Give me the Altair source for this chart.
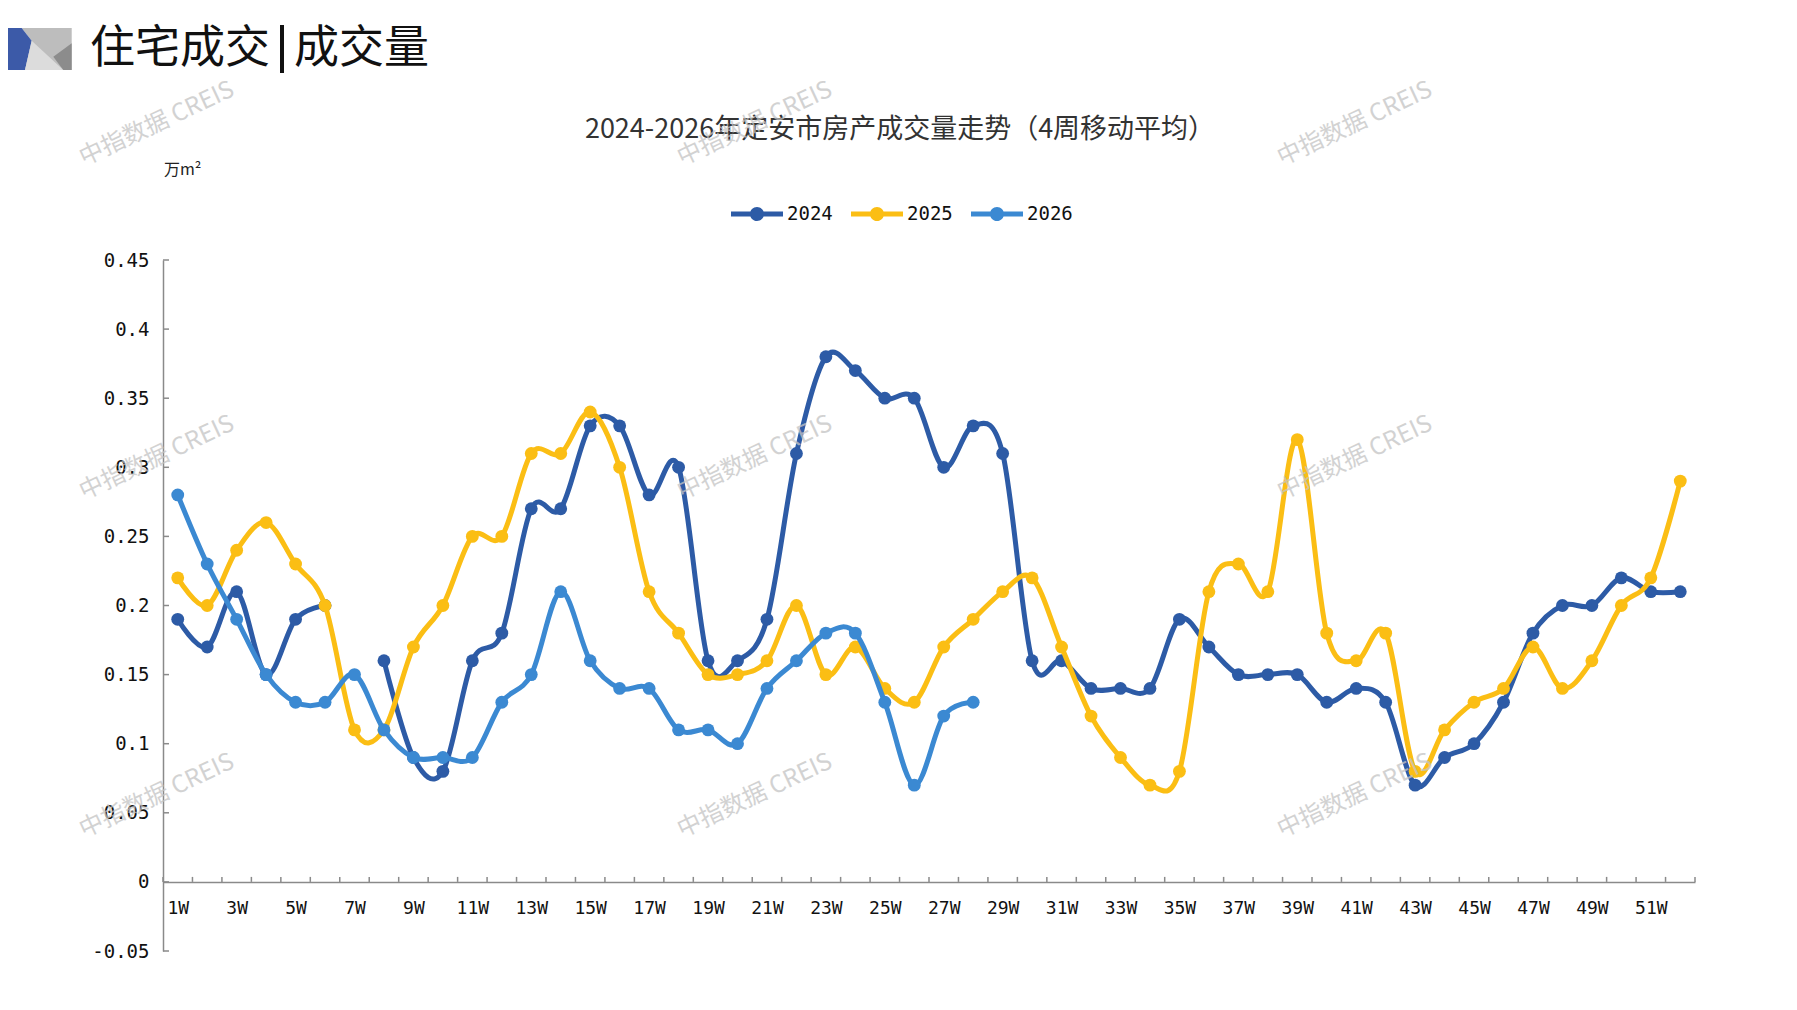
import altair as alt
import pandas as pd

# weekly 4-week moving average of housing transaction area (10k m2)
weeks = ["1W", "2W", "3W", "4W", "5W", "6W", "7W", "8W", "9W", "10W",
         "11W", "12W", "13W", "14W", "15W", "16W", "17W", "18W", "19W", "20W",
         "21W", "22W", "23W", "24W", "25W", "26W", "27W", "28W", "29W", "30W",
         "31W", "32W", "33W", "34W", "35W", "36W", "37W", "38W", "39W", "40W",
         "41W", "42W", "43W", "44W", "45W", "46W", "47W", "48W", "49W", "50W",
         "51W", "52W"]

vol_2024 = [0.19, 0.17, 0.21, 0.15, 0.19, 0.20, None, 0.16, 0.09, 0.08,
            0.16, 0.18, 0.27, 0.27, 0.33, 0.33, 0.28, 0.30, 0.16, 0.16,
            0.19, 0.31, 0.38, 0.37, 0.35, 0.35, 0.30, 0.33, 0.31, 0.16,
            0.16, 0.14, 0.14, 0.14, 0.19, 0.17, 0.15, 0.15, 0.15, 0.13,
            0.14, 0.13, 0.07, 0.09, 0.10, 0.13, 0.18, 0.20, 0.20, 0.22,
            0.21, 0.21]
vol_2025 = [0.22, 0.20, 0.24, 0.26, 0.23, 0.20, 0.11, 0.11, 0.17, 0.20,
            0.25, 0.25, 0.31, 0.31, 0.34, 0.30, 0.21, 0.18, 0.15, 0.15,
            0.16, 0.20, 0.15, 0.17, 0.14, 0.13, 0.17, 0.19, 0.21, 0.22,
            0.17, 0.12, 0.09, 0.07, 0.08, 0.21, 0.23, 0.21, 0.32, 0.18,
            0.16, 0.18, 0.08, 0.11, 0.13, 0.14, 0.17, 0.14, 0.16, 0.20,
            0.22, 0.29]
vol_2026 = [0.28, 0.23, 0.19, 0.15, 0.13, 0.13, 0.15, 0.11, 0.09, 0.09,
            0.09, 0.13, 0.15, 0.21, 0.16, 0.14, 0.14, 0.11, 0.11, 0.10,
            0.14, 0.16, 0.18, 0.18, 0.13, 0.07, 0.12, 0.13]

series_names = ["2024", "2025", "2026"]
series_colors = ["#2D5BA6", "#FBBE14", "#3B89D2"]
y_ticks = [-0.05, 0, 0.05, 0.1, 0.15, 0.2, 0.25, 0.3, 0.35, 0.4, 0.45]
odd_weeks = weeks[::2]

header_left = "住宅成交"
header_right = "成交量"
chart_title = "2024-2026年定安市房产成交量走势（4周移动平均）"
unit_text = "万m²"
watermark = "中指数据 CREIS"

W, H = 1532, 691
BAND = W / len(weeks)
AXIS_GREY = "#8A8A8A"
CJK = "Noto Sans CJK SC"
MONO = "DejaVu Sans Mono"

rows = []
for name, vals in zip(series_names, [vol_2024, vol_2025, vol_2026]):
    for wk, v in zip(weeks, vals):
        rows.append({"week": wk, "series": name, "value": v})
df = pd.DataFrame(rows)

x_enc = alt.X("week:O", sort=weeks, title=None,
              scale=alt.Scale(type="point", padding=0.5),
              axis=alt.Axis(values=odd_weeks, ticks=False, grid=False, offset=-H * 0.1,
                            domainColor=AXIS_GREY, domainWidth=1.5, labelAngle=0,
                            labelFont=MONO, labelFontSize=18, labelColor="#111",
                            labelPadding=18, labelOverlap=False))
y_axis = alt.Axis(values=y_ticks, ticks=False, grid=False, domainColor=AXIS_GREY,
                  domainWidth=1.5, labelFont=MONO, labelFontSize=19, labelColor="#111",
                  labelPadding=14,
                  labelExpr="replace(format(datum.value, '~g'), '\u2212', '-')")
y_scale = alt.Scale(domain=[-0.05, 0.45], nice=False, zero=False)
color_scale = alt.Scale(domain=series_names, range=series_colors)

legend_symbol = ("M-1,-0.1H-0.24V0.1H-1Z M0.24,-0.1H1V0.1H0.24Z "
                 "M0.27,0A0.27,0.27 0 1,1 -0.27,0A0.27,0.27 0 1,1 0.27,0Z")
legend = alt.Legend(orient="none", legendX=568, legendY=-72, direction="horizontal",
                    title=None, symbolType=legend_symbol, symbolSize=2704,
                    symbolStrokeWidth=0, symbolOpacity=1, labelFont=MONO,
                    labelFontSize=19, labelColor="#111", labelOffset=4, columnPadding=18)

layers = []

# inner tick marks of the axes
tick_df = pd.DataFrame({"week": weeks})
layers.append(
    alt.Chart(tick_df).mark_rule(color=AXIS_GREY, strokeWidth=1.5, xOffset=-BAND / 2,
                                 x2Offset=-BAND / 2, y2Offset=-5)
    .encode(x=x_enc, y=alt.Y(datum=0, scale=y_scale, axis=y_axis), y2=alt.Y2(datum=0))
)
layers.append(
    alt.Chart(tick_df.tail(1)).mark_rule(color=AXIS_GREY, strokeWidth=1.5, xOffset=BAND / 2,
                                         x2Offset=BAND / 2, y2Offset=-5)
    .encode(x=x_enc, y=alt.Y(datum=0, scale=y_scale, axis=y_axis), y2=alt.Y2(datum=0))
)
layers.append(
    alt.Chart(pd.DataFrame({"tick": y_ticks})).mark_rule(color=AXIS_GREY, strokeWidth=1.5)
    .encode(y=alt.Y("tick:Q", scale=y_scale, axis=y_axis, title=None),
            x=alt.value(0), x2=alt.value(6))
)

# one line + markers per year, later years drawn on top
for name, col in zip(series_names, series_colors):
    sub = df[df["series"] == name]
    base = alt.Chart(sub).encode(
        x=x_enc,
        y=alt.Y("value:Q", scale=y_scale, axis=y_axis, title=None),
    )
    layers.append(
        base.mark_line(interpolate="cardinal", strokeWidth=5, strokeCap="round",
                       strokeJoin="round", color=col)
    )
    layers.append(
        base.mark_point(filled=True, size=165, opacity=1, strokeWidth=0)
        .encode(color=alt.Color("series:N", scale=color_scale, legend=legend))
    )


def text_layer(txt, x, y, **style):
    return alt.Chart(pd.DataFrame({"t": [txt]})).mark_text(**style).encode(
        x=alt.value(x), y=alt.value(y), text="t:N")


def shape_layer(path, color, x, y):
    # size 4 makes the custom path render at 1 unit = 1 px
    return alt.Chart(pd.DataFrame({"k": [0]})).mark_point(
        shape=path, size=4, filled=True, opacity=1, strokeWidth=0, color=color
    ).encode(x=alt.value(x), y=alt.value(y))


# page header decoration and heading
hx, hy = -163, -232
layers += [
    shape_layer("M21.7,0H71.7V42H25L31.7,12.7Z", "#BDBDBD", hx, hy),
    shape_layer("M0,0H21.7L31.7,12.7L25,42H0Z", "#3C5AA8", hx, hy),
    shape_layer("M31.7,12.7L25,42H63.3Z", "#DCDCDC", hx, hy),
    shape_layer("M71.7,15.3L53.3,28.7L63.3,42H71.7Z", "#8C8C8C", hx, hy),
    shape_layer("M0,0H4V48H0Z", "#111111", 117, -235),
    text_layer(header_left, -73, -211, font=CJK, fontSize=45, align="left",
               baseline="middle", color="#111"),
    text_layer(header_right, 131, -211, font=CJK, fontSize=45, align="left",
               baseline="middle", color="#111"),
    text_layer(chart_title, 737, -130, font=CJK, fontSize=27, align="center",
               baseline="middle", color="#333"),
    text_layer(unit_text, 1, -90, font=CJK, fontSize=16, align="left",
               baseline="middle", color="#222"),
]

# watermarks
for wx in [-6, 592, 1192]:
    for wy in [-136, 198, 536]:
        layers.append(text_layer(watermark, wx, wy, font=CJK, fontSize=24, angle=335,
                                 align="center", baseline="middle", color="#C4C4C4",
                                 opacity=0.75))

chart = (
    alt.layer(*layers)
    .properties(width=W, height=H, background="white",
                autosize=alt.AutoSizeParams(type="none"),
                padding={"left": 155, "top": 252, "right": 84, "bottom": 40})
    .configure_view(stroke=None)
)

chart.save("out.html", embed_options={"renderer": "svg", "actions": False})
